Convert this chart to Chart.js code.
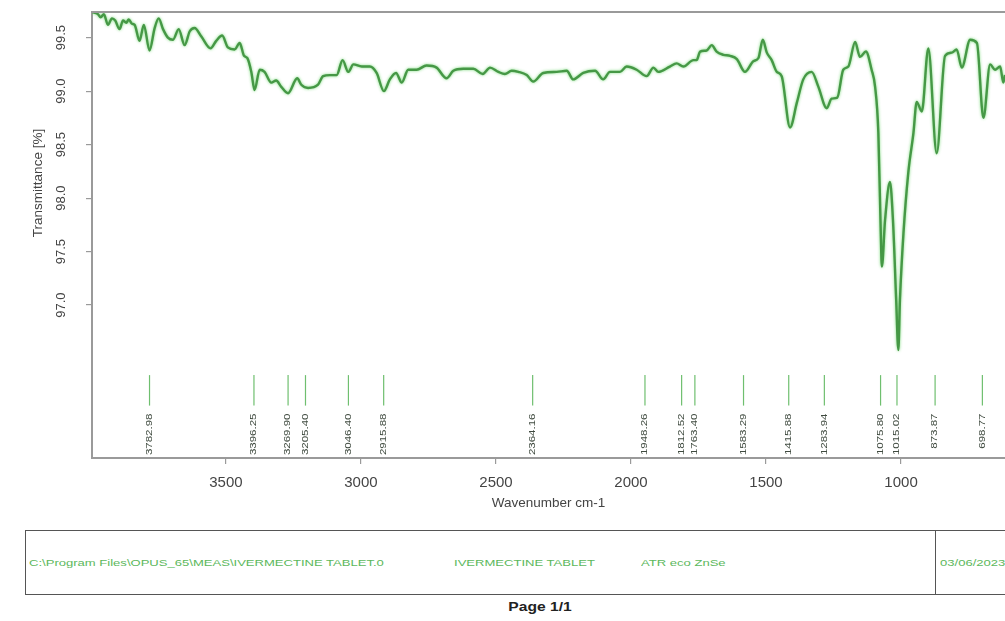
<!DOCTYPE html>
<html>
<head>
<meta charset="utf-8">
<script src="https://cdn.jsdelivr.net/npm/chart.js@4.4.1/dist/chart.umd.min.js"></script>
<style>
  body { margin: 0; background: #fff; width: 1005px; height: 621px; overflow: hidden; position: relative; font-family: "Liberation Sans", Arial, sans-serif; }
  #wrap { position: absolute; left: 0; top: 0; width: 1005px; height: 515px; }
  .box { position: absolute; left: 25px; top: 530px; width: 1000px; height: 63px; border: 1.5px solid #555; }
  .divider { position: absolute; left: 935px; top: 530px; height: 65px; border-left: 1.5px solid #555; }
  .info { position: absolute; top: 558px; font-size: 9px; color: #5cb85c; white-space: nowrap; transform-origin: left center; transform: scaleX(1.45); }
  .page { position: absolute; top: 600px; left: 540px; font-size: 12px; font-weight: bold; color: #222; transform: translateX(-50%) scaleX(1.3); }
</style>
</head>
<body>
<div id="wrap"><canvas id="spec" width="1005" height="515"></canvas></div>
<div class="box"></div>
<div class="divider"></div>
<div class="info" style="left:29px">C:\Program Files\OPUS_65\MEAS\IVERMECTINE TABLET.0</div>
<div class="info" style="left:454px">IVERMECTINE TABLET</div>
<div class="info" style="left:641px">ATR eco ZnSe</div>
<div class="info" style="left:940px">03/06/2023</div>
<div class="page">Page 1/1</div>
<script>
// spectrum
let wavenumber = [3996, 3974, 3964, 3952, 3937, 3922, 3910, 3894, 3881, 3869, 3860, 3848, 3838, 3820, 3804, 3783,
  3764, 3749, 3733, 3715, 3696, 3675, 3653, 3634, 3616, 3591, 3557, 3536, 3514, 3493, 3468, 3449, 3433, 3421,
  3406, 3394, 3375, 3357, 3332, 3314, 3295, 3270, 3236, 3221, 3196, 3159, 3140, 3115, 3090, 3068, 3047, 3028,
  2997, 2967, 2942, 2915, 2893, 2870, 2849, 2825, 2794, 2757, 2720, 2683, 2658, 2621, 2584, 2549, 2522, 2491,
  2467, 2442, 2417, 2386, 2362, 2325, 2275, 2238, 2214, 2177, 2133, 2103, 2078, 2041, 2016, 1979, 1942, 1917,
  1899, 1856, 1831, 1806, 1769, 1757, 1744, 1720, 1701, 1683, 1658, 1633, 1608, 1578, 1547, 1528, 1512, 1497,
  1479, 1460, 1442, 1411, 1386, 1362, 1331, 1306, 1275, 1257, 1236, 1214, 1195, 1170, 1152, 1130, 1109, 1096,
  1084, 1075, 1071, 1059, 1041, 1030, 1018, 1010, 1004, 991, 973, 954, 942, 923, 899, 868, 837, 812, 794, 775,
  744, 719, 695, 670, 652, 633, 621, 615];
let transmittance = [99.74, 99.72, 99.69, 99.72, 99.62, 99.68, 99.66, 99.58, 99.66, 99.64, 99.67, 99.63, 99.62, 99.47, 99.62, 99.38,
  99.59, 99.68, 99.58, 99.50, 99.48, 99.58, 99.43, 99.56, 99.59, 99.51, 99.40, 99.47, 99.52, 99.41, 99.39, 99.45, 99.33, 99.31,
  99.18, 99.01, 99.20, 99.18, 99.08, 99.10, 99.04, 98.98, 99.12, 99.06, 99.03, 99.06, 99.14, 99.15, 99.15, 99.29, 99.18, 99.25,
  99.23, 99.23, 99.17, 99.00, 99.11, 99.17, 99.08, 99.20, 99.20, 99.24, 99.22, 99.12, 99.19, 99.21, 99.21, 99.16, 99.22, 99.18,
  99.16, 99.19, 99.18, 99.15, 99.09, 99.17, 99.18, 99.19, 99.11, 99.17, 99.19, 99.11, 99.18, 99.18, 99.23, 99.20, 99.14, 99.22,
  99.18, 99.23, 99.26, 99.23, 99.29, 99.29, 99.37, 99.38, 99.43, 99.37, 99.34, 99.33, 99.30, 99.18, 99.28, 99.31, 99.48, 99.36,
  99.29, 99.18, 99.14, 98.66, 98.89, 99.11, 99.18, 99.04, 98.84, 98.93, 98.94, 99.20, 99.23, 99.46, 99.32, 99.37, 99.20, 99.04,
  98.61, 97.67, 97.36, 97.80, 98.15, 97.80, 97.05, 96.58, 97.05, 97.67, 98.24, 98.61, 98.90, 98.81, 99.40, 98.42, 99.33, 99.36, 99.39, 99.22,
  99.48, 99.45, 98.75, 99.25, 99.20, 99.23, 99.08, 99.15];

let peakPositions = [3782.98, 3396.25, 3269.90, 3205.40, 3046.40, 2915.88, 2364.16, 1948.26, 1812.52, 1763.40,
  1583.29, 1415.88, 1283.94, 1075.80, 1015.02, 873.87, 698.77];
let peakLabels = ['3782.98', '3396.25', '3269.90', '3205.40', '3046.40', '2915.88', '2364.16', '1948.26', '1812.52', '1763.40',
  '1583.29', '1415.88', '1283.94', '1075.80', '1015.02', '873.87', '698.77'];

let xTicks = [3500, 3000, 2500, 2000, 1500, 1000];
let yTicks = [97.0, 97.5, 98.0, 98.5, 99.0, 99.5];

let axisGrey = '#9a9a9a';
let textGrey = '#444';

// glow round the spectrum line
let glow = {
  id: 'glow',
  beforeDatasetDraw(chart) {
    let ctx = chart.ctx;
    ctx.save();
    ctx.shadowColor = 'rgba(110, 215, 110, 0.9)';
    ctx.shadowBlur = 3;
  },
  afterDatasetDraw(chart) {
    chart.ctx.restore();
  }
};

// frame top, y labels, y title, peak picks
let extras = {
  id: 'extras',
  afterDraw(chart) {
    let ctx = chart.ctx;
    let area = chart.chartArea;
    let xs = chart.scales.x;
    let ys = chart.scales.y;
    ctx.save();

    ctx.strokeStyle = axisGrey;
    ctx.lineWidth = 2;
    ctx.beginPath();
    ctx.moveTo(area.left, area.top);
    ctx.lineTo(area.right, area.top);
    ctx.stroke();

    ctx.fillStyle = textGrey;
    ctx.font = '13px "Liberation Sans", Arial, sans-serif';
    ctx.textAlign = 'center';
    ctx.textBaseline = 'middle';
    ys.ticks.forEach(t => {
      let py = ys.getPixelForValue(t.value);
      ctx.save();
      ctx.translate(61, py);
      ctx.rotate(-Math.PI / 2);
      ctx.fillText(t.value.toFixed(1), 0, 0);
      ctx.restore();
    });

    ctx.save();
    ctx.translate(38, 183);
    ctx.rotate(-Math.PI / 2);
    ctx.font = '13.5px "Liberation Sans", Arial, sans-serif';
    ctx.fillText('Transmittance [%]', 0, 0);
    ctx.restore();

    let top = ys.getPixelForValue(96.345);
    let bottom = ys.getPixelForValue(96.06);
    peakPositions.forEach((p, i) => {
      let px = xs.getPixelForValue(p);
      ctx.strokeStyle = '#6fbf6f';
      ctx.lineWidth = 1.2;
      ctx.beginPath();
      ctx.moveTo(px, top);
      ctx.lineTo(px, bottom);
      ctx.stroke();

      ctx.save();
      ctx.translate(px, bottom + 8);
      ctx.rotate(-Math.PI / 2);
      ctx.scale(1.35, 1);
      ctx.font = '8.5px "Liberation Sans", Arial, sans-serif';
      ctx.fillStyle = '#3f4a3f';
      ctx.textAlign = 'right';
      ctx.textBaseline = 'middle';
      ctx.fillText(peakLabels[i], 0, 0);
      ctx.restore();
    });
    ctx.restore();
  }
};

let ctx = document.getElementById('spec').getContext('2d');
let chart = new Chart(ctx, {
  type: 'line',
  data: {
    datasets: [{
      data: wavenumber.map((w, i) => ({x: w, y: transmittance[i]})),
      borderColor: '#469846',
      borderWidth: 2.4,
      pointRadius: 0,
      cubicInterpolationMode: 'monotone',
      fill: false
    }]
  },
  options: {
    responsive: false,
    animation: false,
    layout: { padding: { top: 12, left: 0, right: 0, bottom: 0 } },
    plugins: { legend: { display: false }, tooltip: { enabled: false } },
    scales: {
      x: {
        type: 'linear',
        reverse: true,
        min: 615,
        max: 3996,
        afterBuildTicks: s => { s.ticks = xTicks.map(v => ({value: v})); },
        afterFit: s => { s.height = 57; },
        ticks: {
          autoSkip: false,
          maxRotation: 0,
          padding: 10,
          color: textGrey,
          callback: v => String(v),
          font: { family: '"Liberation Sans", Arial, sans-serif', size: 15 }
        },
        grid: { drawOnChartArea: false, tickLength: 6, color: axisGrey, lineWidth: 1.2 },
        border: { color: axisGrey, width: 2 },
        title: {
          display: true,
          text: 'Wavenumber cm-1',
          color: textGrey,
          padding: { top: 0, bottom: 4 },
          font: { family: '"Liberation Sans", Arial, sans-serif', size: 13.5 }
        }
      },
      y: {
        min: 95.57,
        max: 99.74,
        afterBuildTicks: s => { s.ticks = yTicks.map(v => ({value: v})); },
        afterFit: s => { s.width = 92; },
        ticks: { display: false },
        grid: { drawOnChartArea: false, tickLength: 6, color: axisGrey, lineWidth: 1.2 },
        border: { color: axisGrey, width: 2 }
      }
    }
  },
  plugins: [glow, extras]
});
</script>
</body>
</html>
